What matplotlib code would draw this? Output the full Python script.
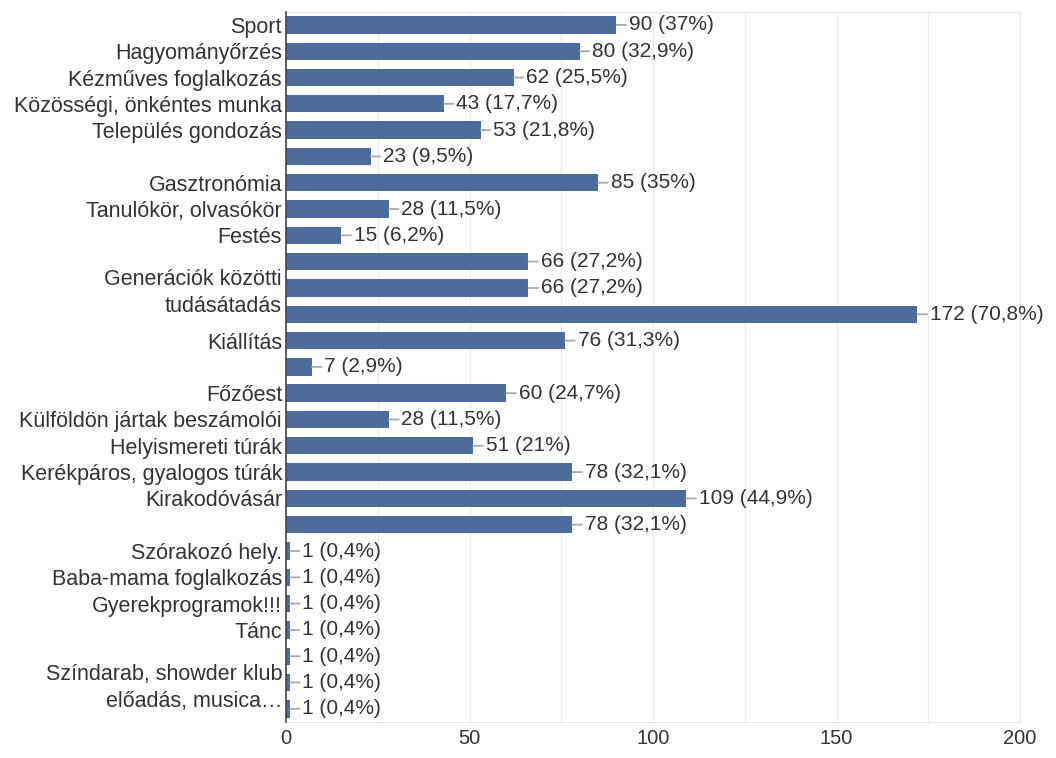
import matplotlib
matplotlib.use("Agg")
import matplotlib.pyplot as plt

plt.rcParams["font.family"] = ["Liberation Sans", "DejaVu Sans"]

# Categories (top to bottom); empty strings are unlabelled rows in the original
labels = [
    "Sport", "Hagyományőrzés", "Kézműves foglalkozás", "Közösségi, önkéntes munka",
    "Település gondozás", "", "Gasztronómia", "Tanulókör, olvasókör", "Festés",
    "", "Generációk közötti\ntudásátadás", "", "Kiállítás", "", "Főzőest",
    "Külföldön jártak beszámolói", "Helyismereti túrák", "Kerékpáros, gyalogos túrák",
    "Kirakodóvásár", "", "Szórakozó hely.", "Baba-mama foglalkozás",
    "Gyerekprogramok!!!", "Tánc", "", "Színdarab, showder klub\nelőadás, musica…", "",
]
counts = [90, 80, 62, 43, 53, 23, 85, 28, 15, 66, 66, 172, 76, 7, 60, 28, 51, 78,
          109, 78, 1, 1, 1, 1, 1, 1, 1]
percents = ["37%", "32,9%", "25,5%", "17,7%", "21,8%", "9,5%", "35%", "11,5%", "6,2%",
            "27,2%", "27,2%", "70,8%", "31,3%", "2,9%", "24,7%", "11,5%", "21%", "32,1%",
            "44,9%", "32,1%", "0,4%", "0,4%", "0,4%", "0,4%", "0,4%", "0,4%", "0,4%"]

bar_color = "#4d6b9b"
text_color = "#333333"

fig = plt.figure(figsize=(10.56, 7.58), dpi=100)
ax = fig.add_axes([0.271, 0.0475, 0.695, 0.937])

y = list(range(len(counts)))
ax.barh(y, counts, height=0.66, color=bar_color, zorder=3)

for yi, c, p in zip(y, counts, percents):
    ax.annotate(f"{c} ({p})", xy=(c, yi), xytext=(9, 0), textcoords="offset points",
                va="center", ha="left", fontsize=15, color=text_color,
                arrowprops=dict(arrowstyle="-", color="#aaaaaa", lw=1.3,
                                shrinkA=0, shrinkB=0), zorder=4)

ax.set_ylim(len(counts) - 0.5, -0.5)
ax.set_xlim(0, 200)
ax.set_yticks(y)
ax.set_yticklabels(labels, fontsize=15.5, color=text_color, linespacing=1.35)
ax.tick_params(axis="y", length=0, pad=3)
ax.set_xticks([0, 50, 100, 150, 200])
ax.set_xticks([25, 75, 125, 175], minor=True)
ax.tick_params(axis="x", which="both", length=0, pad=5, labelsize=14.5, labelcolor=text_color)
ax.grid(axis="x", which="both", color="#ebebeb", lw=1, zorder=0)

for side in ["top", "right", "bottom"]:
    ax.spines[side].set_color("#e6e6e6")
ax.spines["left"].set_color("#444444")
ax.spines["left"].set_linewidth(1.2)
ax.spines["left"].set_zorder(5)

fig.savefig("out.png", dpi=100)
